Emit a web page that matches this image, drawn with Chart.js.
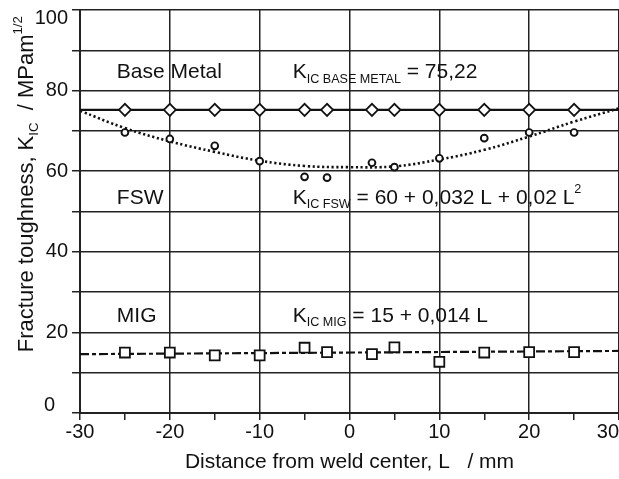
<!DOCTYPE html>
<html><head><meta charset="utf-8">
<script src="https://cdn.jsdelivr.net/npm/chart.js@4.4.1/dist/chart.umd.min.js"></script>
<style>html,body{margin:0;padding:0;background:#fff;overflow:hidden}</style>
</head><body>
<canvas id="c" width="619" height="479" style="display:block;width:619px;height:479px"></canvas>
<script>
// ---- data ----
const measurePositionsL = [-25, -20, -15, -10, -5, -2.5, 2.5, 5, 10, 15, 20, 25];
const baseMetalValues = [75.22, 75.22, 75.22, 75.22, 75.22, 75.22, 75.22, 75.22, 75.22, 75.22, 75.22, 75.22];
const fswValues = [69.6, 68.0, 66.3, 62.5, 58.6, 58.4, 62.1, 61.0, 63.2, 68.2, 69.6, 69.6];
const migValues = [15.0, 15.0, 14.3, 14.3, 16.2, 15.1, 14.6, 16.3, 12.7, 15.0, 15.1, 15.1];
const baseMetalFitL = [-30, 30];
const baseMetalFitValues = [75.22, 75.22];
const fswFitL = [-30, -25, -20, -15, -10, -5, 0, 5, 10, 15, 20, 25, 30];
const fswFitValues = [75.0, 70.7, 67.4, 64.8, 62.6, 61.3, 61.0, 61.2, 62.9, 65.3, 68.6, 72.3, 75.6];
const migFitL = [-30, 30];
const migFitValues = [14.6, 15.4];
const xTickLabels = [-30, -20, -10, 0, 10, 20, 30];
const yTickLabels = [0, 20, 40, 60, 80, 100];
const xTitle = 'Distance from weld center, L   / mm';
const yTitleParts = [['Fracture toughness, K', 'n'], ['IC', 'sub'], ['  / MPam', 'n'], ['1/2', 'sup']];
const textLabels = [
  { L: -25.9, K: 83.1, parts: [['Base Metal', 'n']] },
  { L: -6.33, K: 83.1, parts: [['K', 'n'], ['IC BASE METAL', 'sub'], [' = 75,22', 'n']] },
  { L: -25.9, K: 51.9, parts: [['FSW', 'n']] },
  { L: -6.33, K: 51.9, parts: [['K', 'n'], ['IC FSW', 'sub'], [' = 60 + 0,032 L + 0,02 L', 'n'], ['2', 'sup']] },
  { L: -25.9, K: 22.6, parts: [['MIG', 'n']] },
  { L: -6.33, K: 22.6, parts: [['K', 'n'], ['IC MIG', 'sub'], [' = 15 + 0,014 L', 'n']] }
];

const FONT = "'Liberation Sans', Arial, Helvetica, sans-serif";
const INK = '#111';
const GRID = '#222';

const toXY = (xs, ys) => xs.map((x, i) => ({ x: x, y: ys[i] }));

function drawRich(ctx, parts, x, y, base) {
  let cx = x;
  for (const [t, kind] of parts) {
    let size = base, dy = 0;
    if (kind === 'sub') { size = base * 0.6; dy = base * 0.21; }
    if (kind === 'sup') { size = base * 0.6; dy = -base * 0.5; }
    ctx.font = size + 'px ' + FONT;
    ctx.fillText(t, cx, y + dy);
    cx += ctx.measureText(t).width;
  }
}

const textPlugin = {
  id: 'textPlugin',
  afterDraw(chart) {
    const ctx = chart.ctx;
    const xs = chart.scales.x, ys = chart.scales.y;
    const area = chart.chartArea;
    ctx.save();
    ctx.fillStyle = INK;
    ctx.font = '20px ' + FONT;
    ctx.textBaseline = 'middle';
    // x tick labels
    xTickLabels.forEach((v, i) => {
      const px = xs.getPixelForValue(v);
      ctx.textAlign = (i === xTickLabels.length - 1) ? 'right' : 'center';
      ctx.fillText(String(v), px, area.bottom + 19);
    });
    // y tick labels (kept inside the plot's vertical span, like the reference)
    ctx.textAlign = 'right';
    yTickLabels.forEach(v => {
      const py = Math.min(Math.max(ys.getPixelForValue(v), area.top + 8), area.bottom - 8);
      const rx = (v === ys.min) ? area.left - 25 : area.left - 12;
      ctx.fillText(String(v), rx, py);
    });
    // annotations
    ctx.textAlign = 'left';
    ctx.textBaseline = 'alphabetic';
    textLabels.forEach(a => {
      drawRich(ctx, a.parts, xs.getPixelForValue(a.L), ys.getPixelForValue(a.K), 21);
    });
    // y title (rotated)
    ctx.translate(area.left - 47, ys.getPixelForValue(15.1));
    ctx.rotate(-Math.PI / 2);
    drawRich(ctx, yTitleParts, 0, 0, 22);
    ctx.restore();
  }
};

new Chart(document.getElementById('c'), {
  type: 'scatter',
  data: {
    datasets: [
      { label: 'Base Metal', data: toXY(measurePositionsL, baseMetalValues), pointStyle: 'rectRot', pointRadius: 6,
        pointBackgroundColor: '#fff', pointBorderColor: INK, pointBorderWidth: 1.8, showLine: false, order: 1 },
      { label: 'FSW', data: toXY(measurePositionsL, fswValues), pointStyle: 'circle', pointRadius: 3.4,
        pointBackgroundColor: '#fff', pointBorderColor: INK, pointBorderWidth: 1.9, showLine: false, order: 1 },
      { label: 'MIG', data: toXY(measurePositionsL, migValues), pointStyle: 'rect', pointRadius: 7,
        pointBackgroundColor: '#fff', pointBorderColor: INK, pointBorderWidth: 1.8, showLine: false, order: 1 },
      { label: 'Base Metal fit', data: toXY(baseMetalFitL, baseMetalFitValues), showLine: true, pointRadius: 0,
        borderColor: INK, borderWidth: 2.2, order: 2 },
      { label: 'FSW fit', data: toXY(fswFitL, fswFitValues), showLine: true, pointRadius: 0, tension: 0.4,
        borderColor: INK, borderWidth: 2.6, borderDash: [2.2, 2.6], order: 2 },
      { label: 'MIG fit', data: toXY(migFitL, migFitValues), showLine: true, pointRadius: 0,
        borderColor: INK, borderWidth: 2.2, borderDash: [9, 3, 4, 3], order: 2 }
    ]
  },
  options: {
    responsive: false,
    animation: false,
    events: [],
    layout: { autoPadding: false, padding: { left: 0, right: 0, top: 10, bottom: 2.4 } },
    plugins: { legend: { display: false }, tooltip: { enabled: false } },
    scales: {
      x: {
        type: 'linear', min: -30, max: 30,
        ticks: { stepSize: 5, display: false },
        grid: {
          color: c => (c.tick && Math.abs(c.tick.value % 10) < 1e-9) ? GRID : 'rgba(0,0,0,0)',
          tickColor: GRID, lineWidth: 1.5, tickLength: 7, drawTicks: true
        },
        border: { color: GRID, width: 2 },
        title: { display: true, text: xTitle, color: INK, font: { family: FONT, size: 21 }, padding: { top: 29.4, bottom: 2 } },
        afterFit: s => { s.paddingLeft = 0; s.paddingRight = 0; }
      },
      y: {
        type: 'linear', min: 0, max: 100,
        ticks: { stepSize: 10, display: false },
        grid: { color: GRID, tickColor: GRID, lineWidth: 1.5, tickLength: 8 },
        border: { color: GRID, width: 2 },
        afterFit: s => { s.width = 80; s.paddingTop = 0; s.paddingBottom = 0; }
      }
    }
  },
  plugins: [textPlugin]
});
</script>
</body></html>
